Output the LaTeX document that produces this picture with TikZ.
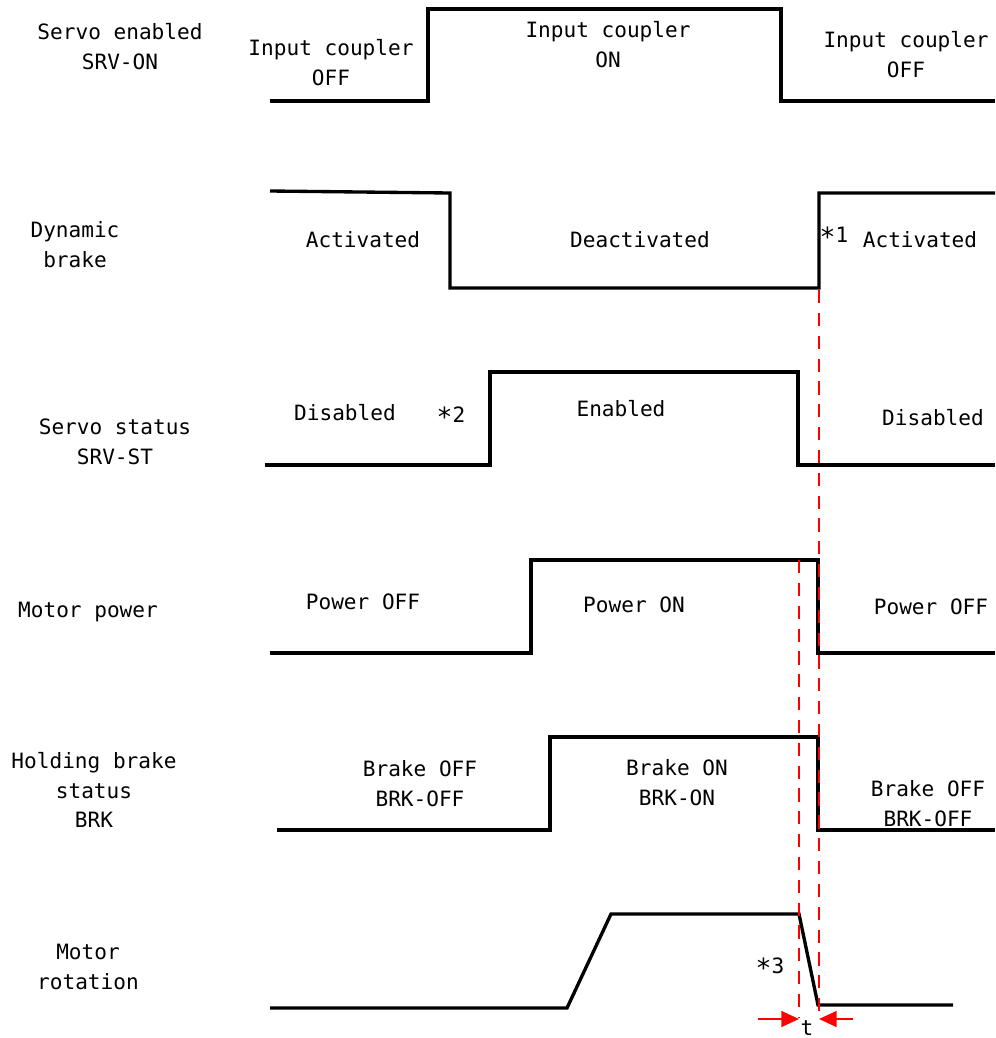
\documentclass[tikz,border=0pt]{standalone}
\usepackage{fontspec}
\setmainfont{DejaVu Sans Mono}
\usetikzlibrary{arrows.meta}

\newcommand{\notestar}{\raisebox{-2.4pt}{\fontsize{15}{15}\selectfont *}}

\begin{document}
\begin{tikzpicture}[
    x=0.02cm, y=-0.02cm,
    sig/.style={line width=1.9pt, line join=miter},
    lbl/.style={font=\fontsize{12}{17}\selectfont, align=center, inner sep=0pt},
    guide/.style={red, line width=1.2pt, dash pattern=on 7.5pt off 5.5pt},
    tarr/.style={red, line width=1pt, -{Triangle[length=10pt, width=9pt]}}
]
\useasboundingbox (0,0) rectangle (995,1038);

% signal names
\node[lbl] (srvon)  at (120,47)  {Servo enabled\\SRV-ON};
\node[lbl] (dynbrk) at (75,245)  {Dynamic\\brake};
\node[lbl] (srvst)  at (115,442) {Servo status\\SRV-ST};
\node[lbl] (mpow)   at (88,612)  {Motor power};
\node[lbl] (brk)    at (94,790)  {Holding brake\\status\\BRK};
\node[lbl] (mrot)   at (88,967)  {Motor\\rotation};

% waveforms
\draw[sig] (270,101) -- (428,101) -- (428,9) -- (781,9) -- (781,101) -- (995,101);
\draw[sig] (270,191) -- (450,193) -- (450,288) -- (819,288) -- (819,193) -- (995,193);
\draw[sig] (265,465) -- (490,465) -- (490,372) -- (798,372) -- (798,465) -- (995,465);
\draw[sig] (270,653) -- (531,653) -- (531,560) -- (818,560) -- (818,653) -- (995,653);
\draw[sig] (277,830) -- (550,830) -- (550,737) -- (818,737) -- (818,830) -- (995,830);
\draw[sig] (270,1008) -- (567,1008) -- (611,914) -- (799,914) -- (818,1005) -- (953,1005);

% state labels
\node[lbl] (on1) at (331,63)  {Input coupler\\OFF};
\node[lbl] (on2) at (608,45)  {Input coupler\\ON};
\node[lbl] (on3) at (906,55)  {Input coupler\\OFF};
\node[lbl] (db1) at (363,240) {Activated};
\node[lbl] (db2) at (640,240) {Deactivated};
\node[lbl] (db3) at (920,240) {Activated};
\node[lbl] (st1) at (345,413) {Disabled};
\node[lbl] (st2) at (621,409) {Enabled};
\node[lbl] (st3) at (933,418) {Disabled};
\node[lbl] (mp1) at (363,602) {Power OFF};
\node[lbl] (mp2) at (634,605) {Power ON};
\node[lbl] (mp3) at (931,607) {Power OFF};
\node[lbl] (bk1) at (420,784) {Brake OFF\\BRK-OFF};
\node[lbl] (bk2) at (677,783) {Brake ON\\BRK-ON};
\node[lbl] (bk3) at (928,804) {Brake OFF\\BRK-OFF};

% notes
\node[lbl] (n1) at (834,237) {\notestar1};
\node[lbl] (n2) at (451,417) {\notestar2};
\node[lbl] (n3) at (770,968) {\notestar3};

% timing guides
\coordinate (tA) at (799,1019);
\coordinate (tB) at (819,1019);
\draw[guide] (819,290) -- (819,1018);
\draw[guide] (799,560) -- (799,1018);
\draw[tarr] (758,1019) -- (tA);
\draw[tarr] (853,1019) -- (tB);
\node[lbl, anchor=base] (t) at (807,1035) {t};
\end{tikzpicture}
\end{document}
